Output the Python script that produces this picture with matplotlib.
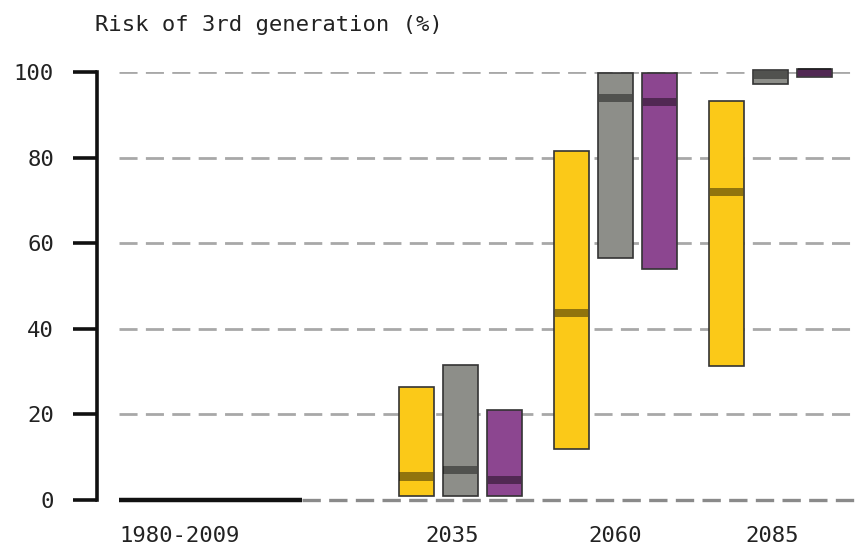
import numpy as np
import matplotlib.pyplot as plt

plt.rcParams['font.family'] = ['DejaVu Sans Mono', 'DejaVu Sans']

# Risk of a 3rd generation, ranges (low/high) and median per scenario
periods = ['1980-2009', '2035', '2060', '2085']
scenarios = ['yellow', 'gray', 'purple']
colors = ['#FBC918', '#8D8E89', '#8C4690']
low = [[1.0, 1.0, 1.0],
       [12.0, 56.5, 54.0],
       [31.3, 97.2, 98.9]]
high = [[26.3, 31.5, 21.0],
        [81.5, 99.8, 99.8],
        [93.2, 100.5, 100.8]]
median = [[5.5, 7.0, 4.7],
          [43.7, 94.0, 93.0],
          [72.0, 99.2, 99.9]]
baseline = 0.0  # observed 1980-2009

label_x = [-0.81, 0.95, 2.0, 3.01]
offsets = [-0.284, 0.0, 0.284]
width = 0.226
med_h = 1.9

fig = plt.figure(figsize=(8.56, 5.5), dpi=100)
ax = fig.add_axes([0.1133, 0.0909, 0.8867, 0.7782])
ax.set_xlim(-1.34, 3.55)
ax.set_ylim(0, 100)

# dashed grid lines
for y in [20, 40, 60, 80, 100]:
    ax.hlines(y, -1.2, 3.6, colors='#a8a8a8', linestyles=(0, (6.5, 3)), linewidth=2, zorder=1)
ax.hlines(0, -0.02, 3.6, colors='#8a8a8a', linestyles=(0, (5.5, 2.5)), linewidth=2.4, zorder=1, clip_on=False)

# observed period
ax.hlines(baseline, -1.2, -0.02, colors='#111111', linewidth=3.2, zorder=3, clip_on=False)

for i in range(3):
    for j in range(3):
        x = i + 1 + offsets[j]
        ax.bar(x, high[i][j] - low[i][j], bottom=low[i][j], width=width,
               color=colors[j], edgecolor='#333333', linewidth=1.2, zorder=4, clip_on=False)
        ax.bar(x, med_h, bottom=median[i][j] - med_h / 2, width=width - 0.01,
               color='black', alpha=0.42, linewidth=0, zorder=5, clip_on=False)

for s in ['top', 'right', 'bottom']:
    ax.spines[s].set_visible(False)
ax.spines['left'].set_linewidth(2.6)
ax.spines['left'].set_color('#111111')

ax.set_yticks([0, 20, 40, 60, 80, 100])
ax.tick_params(axis='y', length=17, width=2.6, color='#111111', pad=14,
               labelsize=16, labelcolor='#222222')
ax.set_xticks(label_x)
ax.set_xticklabels(periods)
ax.tick_params(axis='x', length=0, pad=19, labelsize=16, labelcolor='#222222')

fig.text(0.111, 0.955, 'Risk of 3rd generation (%)', fontsize=16, color='#222222',
         ha='left', va='center')

fig.savefig('out.png', dpi=100)
